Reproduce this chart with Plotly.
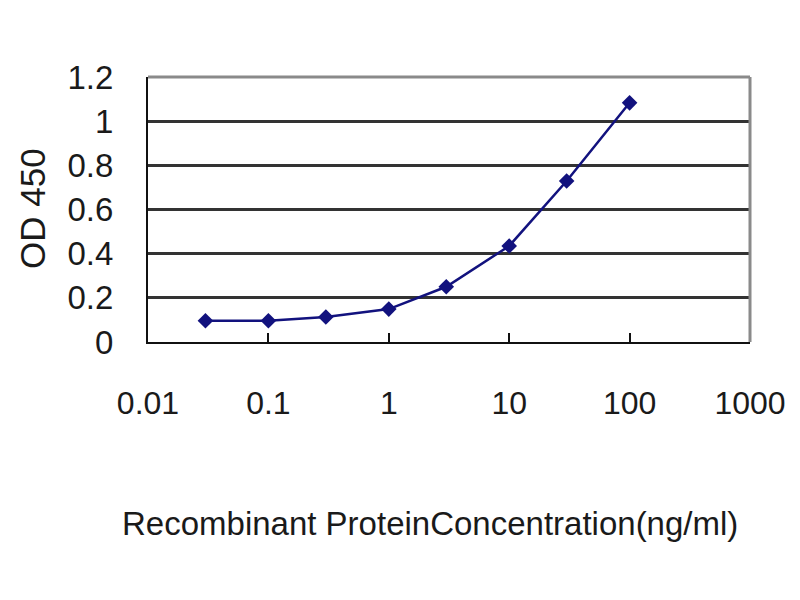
import plotly.graph_objects as go

# Data
concentration = [0.03, 0.1, 0.3, 1, 3, 10, 30, 100]
od450 = [0.096, 0.096, 0.113, 0.149, 0.25, 0.435, 0.729, 1.083]

x_ticks = [0.01, 0.1, 1, 10, 100, 1000]
x_ticktext = ["0.01", "0.1", "1", "10", "100", "1000"]
y_ticks = [0, 0.2, 0.4, 0.6, 0.8, 1.0, 1.2]
y_ticktext = ["0", "0.2", "0.4", "0.6", "0.8", "1", "1.2"]

x_title = "Recombinant ProteinConcentration(ng/ml)"
y_title = "OD 450"

FONT = "Liberation Sans, Arial, sans-serif"

fig = go.Figure()
fig.add_trace(go.Scatter(
    x=concentration, y=od450, mode="lines+markers",
    line=dict(color="#12127e", width=2.5),
    marker=dict(symbol="diamond", size=12, color="#12127e"),
    showlegend=False,
))

fig.update_layout(
    width=800, height=600,
    margin=dict(l=140, r=58, t=69, b=266, autoexpand=False),
    paper_bgcolor="white", plot_bgcolor="white",
    font=dict(family=FONT, color="#1a1a1a", size=32),
    xaxis=dict(
        type="log", range=[-2, 3],
        tickvals=x_ticks, ticktext=x_ticktext,
        showgrid=False, zeroline=False,
        showline=True, linecolor="#111111", linewidth=2,
        ticks="inside", ticklen=9, tickwidth=2, tickcolor="#111111",
        ticklabelstandoff=32,
        tickfont=dict(size=32),
    ),
    yaxis=dict(
        range=[0, 1.2],
        tickvals=y_ticks, ticktext=y_ticktext,
        showgrid=True, gridcolor="#333333", gridwidth=3,
        zeroline=False,
        showline=True, linecolor="#111111", linewidth=2,
        ticks="", ticklabelstandoff=26,
        tickfont=dict(size=33),
    ),
    shapes=[
        dict(type="line", xref="paper", yref="paper", x0=0, x1=1, y0=1, y1=1,
             line=dict(color="#8a8a8a", width=3), layer="above"),
        dict(type="line", xref="paper", yref="paper", x0=1, x1=1, y0=0, y1=1,
             line=dict(color="#8a8a8a", width=3), layer="above"),
    ],
    annotations=[
        dict(text=x_title, xref="paper", yref="paper",
             x=(430 - 148) / 602, y=-(523 - 342) / 265,
             xanchor="center", yanchor="middle", showarrow=False,
             font=dict(size=33, family=FONT, color="#1a1a1a")),
        dict(text=y_title, xref="paper", yref="paper",
             x=-(148 - 32) / 602, y=(342 - 208) / 265,
             xanchor="center", yanchor="middle", showarrow=False, textangle=-90,
             font=dict(size=35, family=FONT, color="#1a1a1a")),
    ],
)

fig.write_html("out.html")
